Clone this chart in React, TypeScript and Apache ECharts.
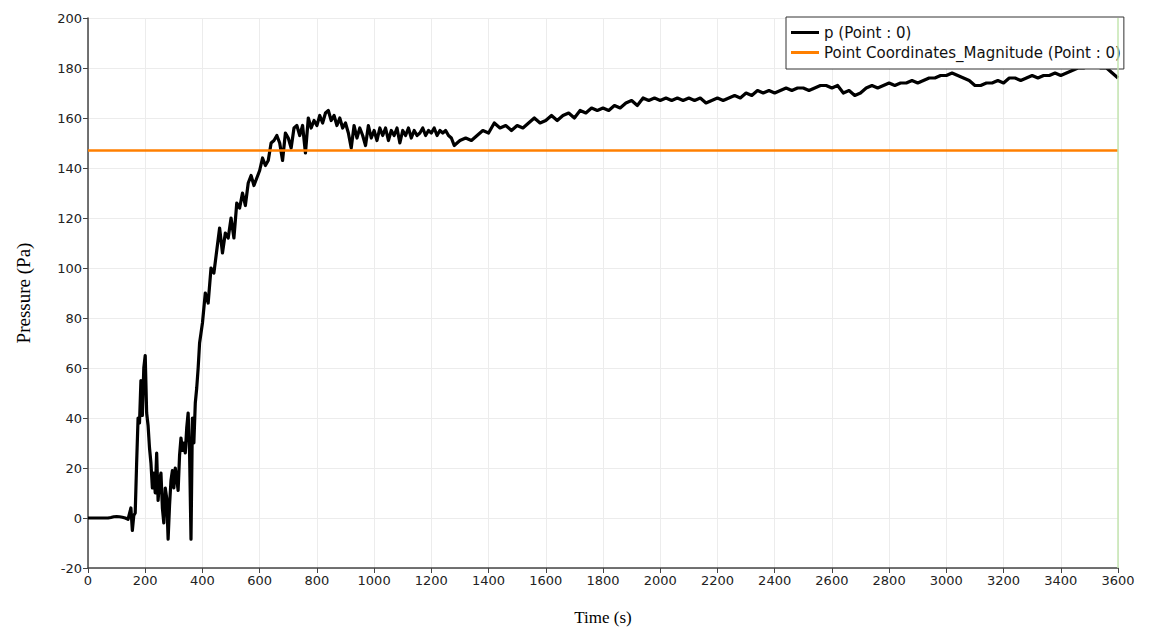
import React, { useEffect, useRef } from "react";
import * as echarts from "echarts";

// Pressure probe p (Point : 0), [time s, pressure Pa]
const pStart: [number, number][] = [
  [0, 0], [10, 0], [20, 0], [30, 0], [40, 0], [50, 0], [60, 0], [70, 0], [80, 0.2], [90, 0.5],
  [100, 0.6], [110, 0.5], [120, 0.3], [130, 0], [140, -0.5],
];
const pRise: [number, number][] = [
  [150, 4], [155, -5], [160, 1], [165, 2], [170, 22], [175, 40], [180, 38], [185, 55], [190, 41], [195, 60],
  [200, 65], [205, 42], [210, 37], [215, 28], [220, 22], [225, 12], [230, 18], [235, 10], [240, 26], [245, 7],
  [250, 15], [255, 18], [260, 4], [265, -2], [270, 12], [275, 8], [280, -8.5], [285, 5], [290, 15], [295, 19],
  [300, 12], [305, 20], [310, 16], [315, 11], [320, 25], [325, 32], [330, 27], [335, 30], [340, 26], [345, 36],
  [350, 42], [355, 26], [360, -8.5], [365, 40], [370, 30], [375, 46], [380, 52], [385, 60], [390, 70], [395, 74],
  [400, 78],
];
const pPlateau: [number, number][] = [
  [410, 90], [420, 86], [430, 100], [440, 98], [450, 107], [460, 116], [470, 106], [480, 114], [490, 112], [500, 120],
  [510, 112], [520, 126], [530, 124], [540, 130], [550, 125], [560, 134], [570, 137], [580, 133], [590, 136], [600, 139],
  [610, 144], [620, 141], [630, 143], [640, 150], [650, 151], [660, 153], [670, 150], [680, 143], [690, 154], [700, 152],
  [710, 148], [720, 156], [730, 157], [740, 153], [750, 157], [760, 146], [770, 160], [780, 156], [790, 159], [800, 157],
  [810, 161], [820, 158], [830, 162], [840, 163], [850, 159], [860, 161], [870, 157], [880, 160], [890, 156], [900, 158],
  [910, 154], [920, 148], [930, 157], [940, 152], [950, 156], [960, 153], [970, 149], [980, 157], [990, 152], [1000, 155],
  [1010, 151], [1020, 156], [1030, 153], [1040, 156], [1050, 151], [1060, 155], [1070, 153], [1080, 156], [1090, 150], [1100, 155],
  [1110, 153], [1120, 156], [1130, 152], [1140, 155], [1150, 153], [1160, 154], [1170, 156], [1180, 153], [1190, 155], [1200, 154],
  [1210, 156], [1220, 153], [1230, 155], [1240, 154], [1250, 155], [1260, 153], [1270, 152], [1280, 149], [1290, 150], [1300, 151],
];
const pLate: [number, number][] = [
  [1320, 152], [1340, 151], [1360, 153], [1380, 155], [1400, 154], [1420, 158], [1440, 156], [1460, 157], [1480, 155], [1500, 157],
  [1520, 156], [1540, 158], [1560, 160], [1580, 158], [1600, 159], [1620, 161], [1640, 159], [1660, 161], [1680, 162], [1700, 160],
  [1720, 163], [1740, 162], [1760, 164], [1780, 163], [1800, 164], [1820, 163], [1840, 165], [1860, 164], [1880, 166], [1900, 167],
  [1920, 165], [1940, 168], [1960, 167], [1980, 168], [2000, 167], [2020, 168], [2040, 167], [2060, 168], [2080, 167], [2100, 168],
  [2120, 167], [2140, 168], [2160, 166], [2180, 167], [2200, 168], [2220, 167], [2240, 168], [2260, 169], [2280, 168], [2300, 170],
  [2320, 169], [2340, 171], [2360, 170], [2380, 171], [2400, 170], [2420, 171], [2440, 172], [2460, 171], [2480, 172], [2500, 172],
  [2520, 171], [2540, 172], [2560, 173], [2580, 173], [2600, 172], [2620, 173], [2640, 170], [2660, 171], [2680, 169], [2700, 170],
  [2720, 172], [2740, 173], [2760, 172], [2780, 173], [2800, 174], [2820, 173], [2840, 174], [2860, 174], [2880, 175], [2900, 174],
  [2920, 175], [2940, 176], [2960, 176], [2980, 177], [3000, 177], [3020, 178], [3040, 177], [3060, 176], [3080, 175], [3100, 173],
  [3120, 173], [3140, 174], [3160, 174], [3180, 175], [3200, 174], [3220, 176], [3240, 176], [3260, 175], [3280, 176], [3300, 177],
  [3320, 176], [3340, 177], [3360, 177], [3380, 178], [3400, 177], [3420, 178], [3440, 179], [3460, 180], [3480, 180], [3500, 181],
  [3520, 181], [3540, 180], [3560, 180], [3580, 178], [3600, 176],
];

// Point Coordinates_Magnitude (Point : 0)
const magnitude: [number, number][] = [
  [0, 147], [3600, 147],
];

const timeMarker = 3600;
const xRange = [0, 3600];
const yRange = [-20, 200];

const labelFont = "'DejaVu Sans', 'Noto Sans', sans-serif";
const titleFont = "'Liberation Serif', 'DejaVu Serif', serif";

export default function App() {
  const ref = useRef<HTMLDivElement>(null);
  useEffect(() => {
    if (!ref.current) return;
    const chart = echarts.init(ref.current, undefined, { renderer: "svg" });
    const pData = [...pStart, ...pRise, ...pPlateau, ...pLate];
    chart.setOption({
      animation: false,
      backgroundColor: "#ffffff",
      grid: {
        left: 88,
        right: 34,
        top: 18,
        bottom: 61,
        containLabel: false,
        outerBoundsMode: "none",
      },
      legend: {
        orient: "vertical",
        left: 786,
        top: 17,
        padding: [8, 3, 9, 5],
        itemGap: 5,
        itemWidth: 28,
        itemHeight: 3,
        icon: "rect",
        borderColor: "#333",
        borderWidth: 1,
        backgroundColor: "#fff",
        textStyle: { fontFamily: labelFont, fontSize: 15, color: "#111" },
        data: ["p (Point : 0)", "Point Coordinates_Magnitude (Point : 0)"],
      },
      xAxis: {
        type: "value",
        min: xRange[0],
        max: xRange[1],
        interval: 200,
        name: "Time (s)",
        nameLocation: "middle",
        nameGap: 40,
        nameTextStyle: { fontFamily: titleFont, fontSize: 17, color: "#000", lineHeight: 18 },
        axisLine: { show: true, onZero: false, lineStyle: { color: "#444", width: 1.5 } },
        axisTick: { show: true, length: 5, lineStyle: { color: "#444" } },
        axisLabel: {
          margin: 6,
          fontFamily: labelFont,
          fontSize: 13,
          color: "#222",
          formatter: (v: number) => String(v),
        },
        splitLine: { show: true, lineStyle: { color: "#ececec", width: 1 } },
      },
      yAxis: {
        type: "value",
        min: yRange[0],
        max: yRange[1],
        interval: 20,
        name: "Pressure (Pa)",
        nameLocation: "middle",
        nameGap: 55,
        nameTextStyle: { fontFamily: titleFont, fontSize: 19, color: "#000" },
        axisLine: { show: true, onZero: false, lineStyle: { color: "#444", width: 1.5 } },
        axisTick: { show: true, length: 5, lineStyle: { color: "#444" } },
        axisLabel: {
          margin: 6,
          fontFamily: labelFont,
          fontSize: 13,
          color: "#222",
          formatter: (v: number) => String(v),
        },
        splitLine: { show: true, lineStyle: { color: "#ececec", width: 1 } },
      },
      series: [
        {
          name: "p (Point : 0)",
          type: "line",
          data: pData,
          showSymbol: false,
          symbol: "none",
          color: "#000",
          lineStyle: { color: "#000", width: 3.2, join: "round" },
          z: 2,
        },
        {
          name: "Point Coordinates_Magnitude (Point : 0)",
          type: "line",
          data: magnitude,
          showSymbol: false,
          symbol: "none",
          color: "#ff7f00",
          lineStyle: { color: "#ff7f00", width: 2.5 },
          z: 3,
          markLine: {
            silent: true,
            symbol: ["none", "none"],
            label: { show: false },
            lineStyle: { color: "#c5e6b0", width: 1.5, type: "solid" },
            data: [{ xAxis: timeMarker }],
          },
        },
      ],
    });
    return () => chart.dispose();
  }, []);
  return (
    <div
      ref={ref}
      style={{ position: "fixed", left: 0, top: 0, width: 1152, height: 629 }}
    />
  );
}
